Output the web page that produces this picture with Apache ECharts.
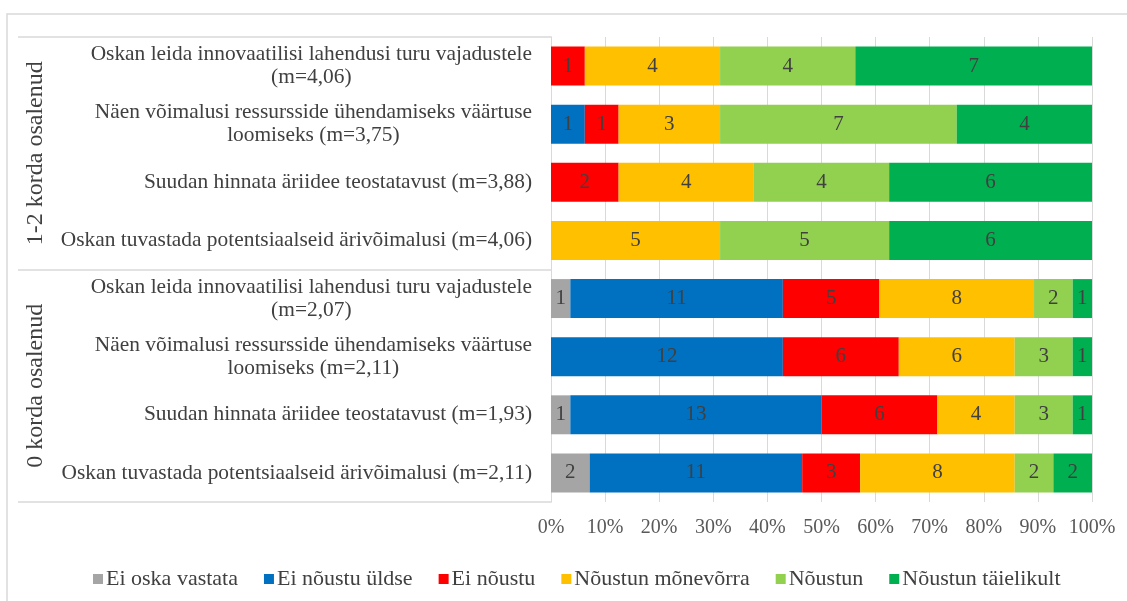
<!DOCTYPE html>
<html>
<head>
<meta charset="utf-8">
<script src="https://cdn.jsdelivr.net/npm/echarts@6/dist/echarts.min.js"></script>
<style>
html,body{margin:0;padding:0;background:#fff;}
#chart{width:1127px;height:601px;}
</style>
</head>
<body>
<div id="chart"></div>
<script>
// ---- data (rows listed top to bottom) ----
const categories = [
  'Oskan leida innovaatilisi lahendusi turu vajadustele\n(m=4,06)',
  'Näen võimalusi ressursside ühendamiseks väärtuse\nloomiseks (m=3,75)',
  'Suudan hinnata äriidee teostatavust (m=3,88)',
  'Oskan tuvastada potentsiaalseid ärivõimalusi (m=4,06)',
  'Oskan leida innovaatilisi lahendusi turu vajadustele\n(m=2,07)',
  'Näen võimalusi ressursside ühendamiseks väärtuse\nloomiseks (m=2,11)',
  'Suudan hinnata äriidee teostatavust (m=1,93)',
  'Oskan tuvastada potentsiaalseid ärivõimalusi (m=2,11)'
];
const groups = ['1-2 korda osalenud', '0 korda osalenud'];
const seriesNames = ['Ei oska vastata', 'Ei nõustu üldse', 'Ei nõustu', 'Nõustun mõnevõrra', 'Nõustun', 'Nõustun täielikult'];
const eiOskaVastata     = [0, 0, 0, 0, 1, 0, 1, 2];
const eiNoustuYldse     = [0, 1, 0, 0, 11, 12, 13, 11];
const eiNoustu          = [1, 1, 2, 0, 5, 6, 6, 3];
const noustunMonevorra  = [4, 3, 4, 5, 8, 6, 4, 8];
const noustun           = [4, 7, 4, 5, 2, 3, 3, 2];
const noustunTaielikult = [7, 4, 6, 6, 1, 1, 1, 2];
const xTicks = [0, 10, 20, 30, 40, 50, 60, 70, 80, 90, 100];

const colors = ['#A5A5A5', '#0070C0', '#FF0000', '#FFC000', '#92D050', '#00B050'];
const counts = [eiOskaVastata, eiNoustuYldse, eiNoustu, noustunMonevorra, noustun, noustunTaielikult];
const totals = categories.map((_, i) => counts.reduce((s, arr) => s + arr[i], 0));

const FONT = '"Liberation Serif", "Times New Roman", serif';
const TXT = '#404040';

const series = seriesNames.map((name, k) => ({
  name: name,
  type: 'bar',
  stack: 'total',
  barCategoryGap: '33%',
  itemStyle: { color: colors[k] },
  label: {
    show: true,
    position: 'inside',
    color: TXT,
    fontFamily: FONT,
    fontSize: 21,
    formatter: p => (counts[k][p.dataIndex] > 0 ? String(counts[k][p.dataIndex]) : '')
  },
  emphasis: { disabled: true },
  data: counts[k].map((v, i) => v / totals[i] * 100)
}));

const chart = echarts.init(document.getElementById('chart'), null, { renderer: 'canvas' });
chart.setOption({
  animation: false,
  backgroundColor: '#fff',
  graphic: [{
    type: 'rect',
    shape: { x: 7, y: 14, width: 1300, height: 800 },
    style: { fill: 'none', stroke: '#d9d9d9', lineWidth: 1.5 },
    silent: true
  }],
  grid: { left: 551, right: 35, top: 37, bottom: 99, containLabel: false },
  legend: {
    data: seriesNames,
    left: 88,
    top: 563,
    itemWidth: 10,
    itemHeight: 10,
    itemGap: 26,
    icon: 'rect',
    textStyle: { fontFamily: FONT, fontSize: 22, color: TXT, padding: [0, 0, 0, -2] }
  },
  xAxis: {
    type: 'value',
    min: 0,
    max: 100,
    interval: 10,
    axisLine: { show: false },
    axisTick: { show: false },
    splitLine: { show: true, lineStyle: { color: '#d9d9d9', width: 1 } },
    axisLabel: {
      formatter: v => (xTicks.includes(v) ? v + '%' : ''),
      fontFamily: FONT, fontSize: 20, color: '#595959', margin: 16
    }
  },
  yAxis: [{
    type: 'category',
    inverse: true,
    data: categories,
    axisLine: { show: true, lineStyle: { color: '#d9d9d9' } },
    axisTick: { show: false },
    axisLabel: {
      interval: 0,
      margin: 19,
      formatter: v => v.split('\n').map(s => '{c|' + s + '}').join('\n'),
      rich: { c: { align: 'center', fontFamily: FONT, fontSize: 21.4, lineHeight: 23, color: TXT } }
    }
  }, {
    type: 'category',
    inverse: true,
    position: 'left',
    offset: 0,
    data: groups,
    axisLine: { show: true, lineStyle: { color: '#d9d9d9' } },
    axisTick: { show: true, interval: 0, length: 533, lineStyle: { color: '#d9d9d9', width: 1.5 } },
    axisLabel: {
      interval: 0,
      rotate: 90,
      margin: 503,
      fontFamily: FONT, fontSize: 24, color: TXT
    }
  }],
  series: series
});
</script>
</body>
</html>
